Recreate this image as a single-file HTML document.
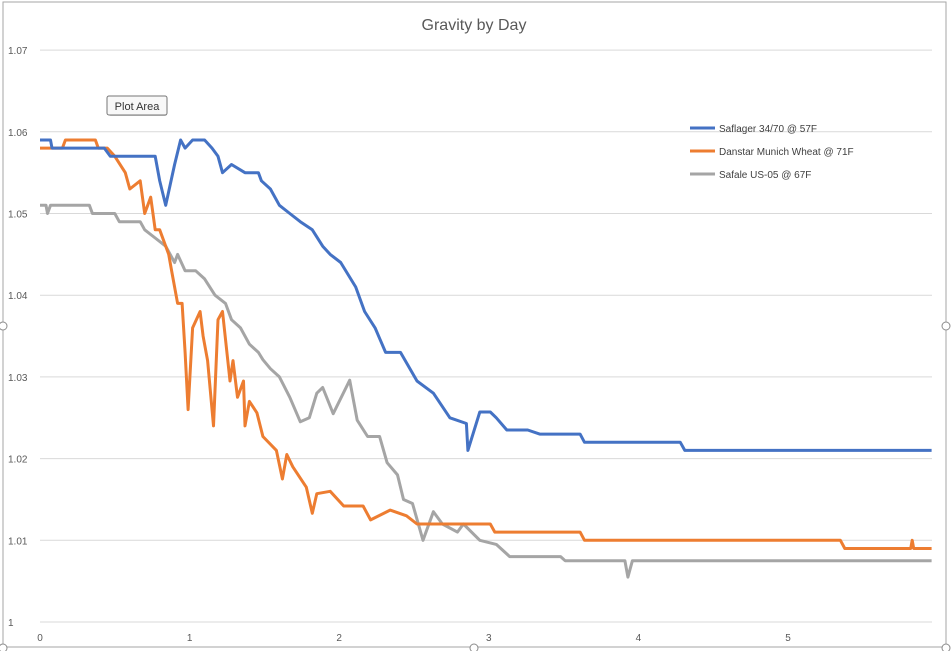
<!DOCTYPE html>
<html><head><meta charset="utf-8"><style>
body{margin:0;background:#fff;font-family:"Liberation Sans",sans-serif}
svg{display:block}
</style></head><body>
<svg id="chart" width="951" height="651" xmlns="http://www.w3.org/2000/svg">
<rect x="0" y="0" width="951" height="651" fill="#fff"/>
<rect x="3" y="2" width="943" height="645" fill="none" stroke="#a6a6a6" stroke-width="1"/>
<text x="474" y="30" text-anchor="middle" font-size="16" fill="#595959">Gravity by Day</text>
<g id="grid"></g><g id="series"></g>
<g font-size="10" fill="#404040">
<line x1="690" y1="128" x2="715" y2="128" stroke="#4472c4" stroke-width="3"/>
<text x="719" y="132">Saflager 34/70 @ 57F</text>
<line x1="690" y1="151" x2="715" y2="151" stroke="#ed7d31" stroke-width="3"/>
<text x="719" y="155">Danstar Munich Wheat @ 71F</text>
<line x1="690" y1="174" x2="715" y2="174" stroke="#a5a5a5" stroke-width="3"/>
<text x="719" y="178">Safale US-05 @ 67F</text>
</g>
<g>
<rect x="109" y="98" width="58" height="18" rx="2" fill="#8a8a8a" opacity="0.4"/>
<rect x="107" y="96" width="60" height="19" rx="2" fill="#f8f8f8" stroke="#767676"/>
<text x="137" y="110" text-anchor="middle" font-size="11" fill="#333">Plot Area</text>
</g>
<g fill="#fff" stroke="#8c8c8c">
<circle cx="3" cy="326" r="4"/><circle cx="946" cy="326" r="4"/><circle cx="3" cy="648" r="4"/><circle cx="946" cy="648" r="4"/><circle cx="474" cy="648" r="4"/>
</g>
</svg>
<script>
const yTicks=[1,1.01,1.02,1.03,1.04,1.05,1.06,1.07];
const yTickLabels=["1","1.01","1.02","1.03","1.04","1.05","1.06","1.07"];
const xTicks=[0,1,2,3,4,5];
const xTickLabels=["0","1","2","3","4","5"];
const saflagerDays=[0,0.07,0.08,0.43,0.47,0.74,0.77,0.80,0.84,0.90,0.94,0.97,1.02,1.10,1.15,1.19,1.22,1.28,1.37,1.46,1.48,1.54,1.60,1.67,1.74,1.82,1.89,1.94,2.01,2.11,2.17,2.24,2.31,2.41,2.52,2.63,2.74,2.85,2.86,2.94,3.01,3.05,3.12,3.26,3.34,3.61,3.64,4.28,4.31,5.96];
const saflagerGravity=[1.059,1.059,1.058,1.058,1.057,1.057,1.057,1.054,1.051,1.056,1.059,1.058,1.059,1.059,1.058,1.057,1.055,1.056,1.055,1.055,1.054,1.053,1.051,1.050,1.049,1.048,1.046,1.045,1.044,1.041,1.038,1.036,1.033,1.033,1.0295,1.028,1.025,1.0243,1.021,1.0257,1.0257,1.025,1.0235,1.0235,1.023,1.023,1.022,1.022,1.021,1.021];
const danstarDays=[0,0.15,0.17,0.37,0.39,0.45,0.50,0.57,0.60,0.67,0.70,0.74,0.77,0.80,0.86,0.88,0.92,0.95,0.97,0.99,1.02,1.07,1.09,1.12,1.16,1.19,1.22,1.27,1.29,1.32,1.36,1.37,1.40,1.45,1.49,1.58,1.62,1.65,1.69,1.78,1.82,1.85,1.94,2.03,2.16,2.21,2.34,2.45,2.52,3.01,3.04,3.61,3.64,5.35,5.38,5.82,5.83,5.84,5.96];
const danstarGravity=[1.058,1.058,1.059,1.059,1.058,1.058,1.057,1.055,1.053,1.054,1.050,1.052,1.048,1.048,1.045,1.043,1.039,1.039,1.033,1.026,1.036,1.038,1.035,1.032,1.024,1.037,1.038,1.0295,1.032,1.0275,1.0295,1.024,1.027,1.0256,1.0227,1.021,1.0175,1.0205,1.019,1.0165,1.0133,1.0157,1.016,1.0142,1.0142,1.0125,1.0137,1.013,1.012,1.012,1.011,1.011,1.010,1.010,1.009,1.009,1.010,1.009,1.009];
const safaleDays=[0,0.04,0.05,0.07,0.33,0.35,0.50,0.53,0.67,0.70,0.77,0.84,0.90,0.92,0.97,1.04,1.10,1.17,1.24,1.28,1.34,1.40,1.46,1.49,1.54,1.60,1.67,1.74,1.80,1.85,1.89,1.96,2.07,2.12,2.19,2.27,2.32,2.39,2.43,2.49,2.56,2.63,2.69,2.79,2.83,2.94,3.05,3.14,3.48,3.51,3.91,3.93,3.96,5.96];
const safaleGravity=[1.051,1.051,1.050,1.051,1.051,1.050,1.050,1.049,1.049,1.048,1.047,1.046,1.044,1.045,1.043,1.043,1.042,1.040,1.039,1.037,1.036,1.034,1.033,1.0321,1.031,1.030,1.0275,1.0245,1.025,1.028,1.0287,1.0255,1.0296,1.0247,1.0227,1.0227,1.0195,1.018,1.015,1.0145,1.010,1.0135,1.012,1.011,1.012,1.010,1.0095,1.008,1.008,1.0075,1.0075,1.0055,1.0075,1.0075];
const X0=40,X1=932,PXD=149.6,Y0=622,PYU=8170;
function xs(d){return X0+d*PXD;}
function ys(v){return Y0-(v-1)*PYU;}
const NS="http://www.w3.org/2000/svg";
const grid=document.getElementById('grid');
yTicks.forEach((t,i)=>{
 const l=document.createElementNS(NS,'line');
 
 
 l.setAttribute('x1',X0);l.setAttribute('x2',X1);l.setAttribute('y1',ys(t));l.setAttribute('y2',ys(t));
 l.setAttribute('stroke','#d9d9d9');l.setAttribute('stroke-width','1');grid.appendChild(l);
 const tx=document.createElementNS(NS,'text');
 
 
 tx.setAttribute('x',8);tx.setAttribute('y',ys(t)+4);tx.setAttribute('font-size','10');tx.setAttribute('fill','#595959');
 tx.textContent=yTickLabels[i];grid.appendChild(tx);
});
xTicks.forEach((t,i)=>{
 const tx=document.createElementNS(NS,'text');
 
 
 tx.setAttribute('x',xs(t));tx.setAttribute('y',641);tx.setAttribute('text-anchor','middle');tx.setAttribute('font-size','10');tx.setAttribute('fill','#595959');
 tx.textContent=xTickLabels[i];grid.appendChild(tx);
});
const ser=document.getElementById('series');
function addLine(days,vals,color,name){
 const p=document.createElementNS(NS,'polyline');
 
 
 p.setAttribute('points',days.map((d,i)=>xs(d).toFixed(1)+','+ys(vals[i]).toFixed(1)).join(' '));
 p.setAttribute('fill','none');p.setAttribute('stroke',color);p.setAttribute('stroke-width','3');p.setAttribute('stroke-linejoin','round');
 ser.appendChild(p);
}
addLine(safaleDays,safaleGravity,'#a5a5a5','safale-line');
addLine(danstarDays,danstarGravity,'#ed7d31','danstar-line');
addLine(saflagerDays,saflagerGravity,'#4472c4','saflager-line');
</script>
</body></html>
